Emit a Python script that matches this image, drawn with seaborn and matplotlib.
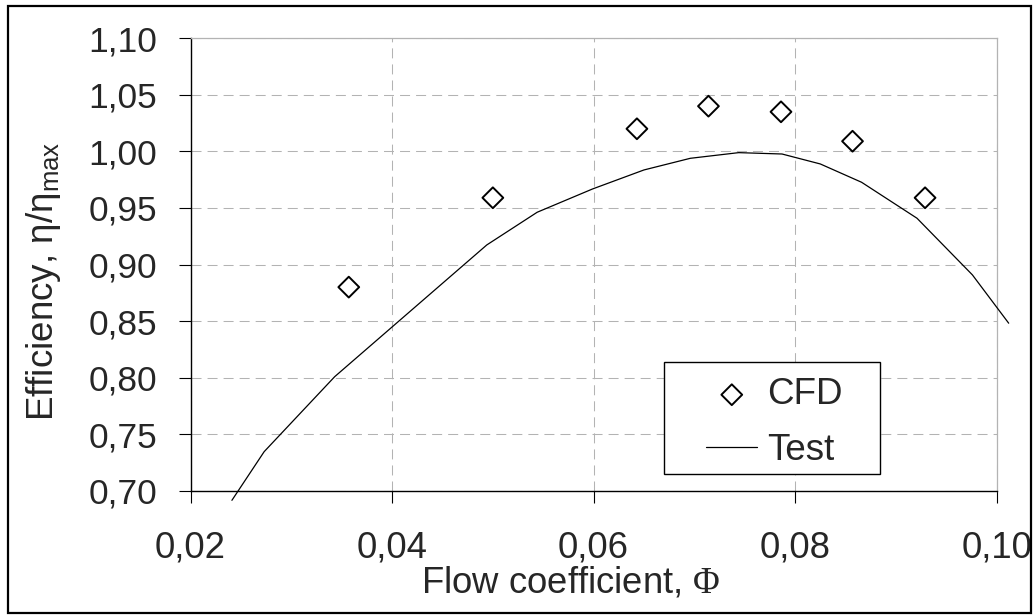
import matplotlib
matplotlib.use("Agg")
import matplotlib.pyplot as plt
import seaborn as sns
from matplotlib.patches import Rectangle

# ---- data ----
cfd_phi = [0.0357, 0.0500, 0.0643, 0.0714, 0.0786, 0.0857, 0.0929]
cfd_eff = [0.880, 0.959, 1.020, 1.040, 1.035, 1.009, 0.959]

test_phi = [0.0241, 0.0273, 0.0343, 0.0494, 0.0544, 0.0599, 0.0650, 0.0696,
            0.0744, 0.0787, 0.0825, 0.0866, 0.0921, 0.0976, 0.1012]
test_eff = [0.6915, 0.7345, 0.8008, 0.9173, 0.9462, 0.9668, 0.9836, 0.9939,
            0.9989, 0.9977, 0.9889, 0.9727, 0.9409, 0.8908, 0.8481]

x_tick_values = [0.02, 0.04, 0.06, 0.08, 0.10]
x_tick_labels = ["0,02", "0,04", "0,06", "0,08", "0,10"]
y_tick_values = [0.70, 0.75, 0.80, 0.85, 0.90, 0.95, 1.00, 1.05, 1.10]
y_tick_labels = ["0,70", "0,75", "0,80", "0,85", "0,90", "0,95", "1,00", "1,05", "1,10"]

# ---- style ----
sns.set_style("white")
plt.rcParams["font.family"] = ["Liberation Sans", "DejaVu Sans"]
plt.rcParams["mathtext.fontset"] = "custom"
plt.rcParams["mathtext.rm"] = "Liberation Sans"
plt.rcParams["mathtext.it"] = "Liberation Sans:italic"
plt.rcParams["mathtext.sf"] = "Liberation Serif"

W, H = 1035, 616
fig = plt.figure(figsize=(W / 100, H / 100), dpi=100)
ax_l, ax_r, ax_t, ax_b = 190.6, 996.6, 38.3, 490.7
ax = fig.add_axes([ax_l / W, 1 - ax_b / H, (ax_r - ax_l) / W, (ax_b - ax_t) / H])

grid_col = "#b3b3b3"
ax.grid(True, color=grid_col, linestyle=(0, (9.6, 5.8)), linewidth=0.75, zorder=0)
ax.set_axisbelow(True)

sns.scatterplot(x=cfd_phi, y=cfd_eff, marker="D", s=112, facecolor="none",
                edgecolor="black", linewidth=1.4, label="CFD", ax=ax, zorder=3)
sns.lineplot(x=test_phi, y=test_eff, color="black", linewidth=0.9, label="Test",
             ax=ax, estimator=None, sort=False, clip_on=False, zorder=3)

ax.set_xlim(0.02, 0.10)
ax.set_ylim(0.70, 1.10)
ax.set_xticks(x_tick_values, labels=x_tick_labels)
ax.set_yticks(y_tick_values, labels=y_tick_labels)

for side in ["left", "bottom"]:
    ax.spines[side].set_color("black")
    ax.spines[side].set_linewidth(1.0)
for side in ["top", "right"]:
    ax.spines[side].set_color(grid_col)
    ax.spines[side].set_linewidth(0.9)

ax.tick_params(axis="both", direction="out", length=8.6, width=0.8, color="black",
               top=False, right=False, left=True, bottom=True)
ax.tick_params(axis="x", labelsize=26.3, pad=20)
ax.tick_params(axis="y", labelsize=25.5, pad=15.5)

ax.set_ylabel("Efficiency, η/η$_{\\mathrm{max}}$", fontsize=26.5)
ax.yaxis.set_label_coords(-0.158, 0.4635)
ax.set_xlabel("Flow coefficient, $\\mathsf{\\Phi}$", fontsize=26.3, va="baseline")
ax.xaxis.set_label_coords(0.472, -0.2255)

# legend
handles, labels = ax.get_legend_handles_labels()
leg = ax.legend(handles, labels, loc="center",
                bbox_to_anchor=(774.5 / W, 1 - 422.5 / H), bbox_transform=fig.transFigure,
                frameon=False, fontsize=26.5, handlelength=1.38, handletextpad=0.27,
                borderpad=0, labelspacing=0.55)
leg.set_zorder(6)
ax.add_patch(Rectangle((664 / W, 1 - 474 / H), 216 / W, 112 / H, transform=fig.transFigure,
                       facecolor="white", edgecolor="black", linewidth=1.0,
                       clip_on=False, zorder=5))

# outer chart border
fig.add_artist(Rectangle((8 / W, 3 / H), 1023 / W, 607 / H, transform=fig.transFigure,
                         fill=False, edgecolor="black", linewidth=1.6))

fig.savefig("out.png", dpi=100)
